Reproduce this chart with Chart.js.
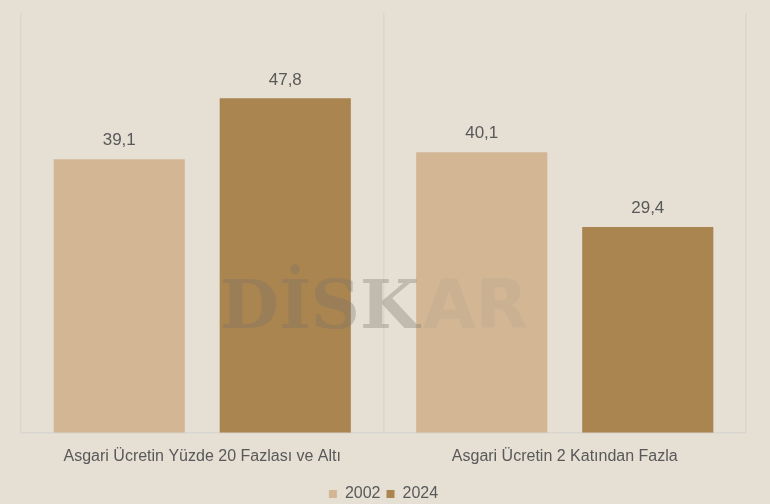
<!DOCTYPE html>
<html>
<head>
<meta charset="utf-8">
<script src="https://cdn.jsdelivr.net/npm/chart.js@4"></script>
<style>
  html, body { margin: 0; padding: 0; background: #e5dfd4; }
  #wrap { width: 770px; height: 504px; position: relative; }
</style>
</head>
<body>
<div id="wrap"><canvas id="chart"></canvas></div>
<script>
// Asgari ücret dilimleri — 2002 vs 2024
const categories = ['Asgari Ücretin Yüzde 20 Fazlası ve Altı', 'Asgari Ücretin 2 Katından Fazla'];
const years = ['2002', '2024'];
const values2002 = [39.1, 40.1];
const values2024 = [47.8, 29.4];

const TEXT = '#595959';
const FONT = "'Liberation Sans', Arial, sans-serif";

// watermark on top of the bars, semi transparent
const watermark = {
  id: 'watermark',
  afterDatasetsDraw(chart) {
    const { ctx } = chart;
    ctx.save();
    ctx.font = "bold 68px 'DejaVu Serif', serif";
    ctx.textBaseline = 'middle';
    ctx.textAlign = 'left';
    const y = 310;
    let x = 220;
    ctx.fillStyle = 'rgba(120,115,105,0.34)';
    ctx.fillText('DİSK', x, y);
    x += ctx.measureText('DİSK').width + 4;
    ctx.font = "bold 68px 'DejaVu Sans', sans-serif";
    ctx.fillStyle = 'rgba(150,140,125,0.14)';
    ctx.fillText('AR', x, y);
    ctx.restore();
  }
};

const valueLabels = {
  id: 'valueLabels',
  afterDatasetsDraw(chart) {
    const { ctx } = chart;
    ctx.save();
    ctx.font = '17px ' + FONT;
    ctx.fillStyle = TEXT;
    ctx.textAlign = 'center';
    ctx.textBaseline = 'bottom';
    chart.data.datasets.forEach((ds, i) => {
      chart.getDatasetMeta(i).data.forEach((bar, j) => {
        const txt = ds.data[j].toFixed(1).replace('.', ',');
        ctx.fillText(txt, bar.x, bar.y - 10);
      });
    });
    ctx.restore();
  }
};

new Chart(document.getElementById('chart'), {
  type: 'bar',
  data: {
    labels: categories,
    datasets: [
      { label: years[0], data: values2002, backgroundColor: '#d3b795' },
      { label: years[1], data: values2024, backgroundColor: '#aa8550' },
    ],
  },
  options: {
    responsive: true,
    maintainAspectRatio: false,
    animation: false,
    categoryPercentage: 0.916,
    barPercentage: 0.79,
    layout: { padding: { left: 21, right: 24, top: 13, bottom: -8 } },
    plugins: {
      legend: {
        position: 'bottom',
        labels: {
          color: TEXT,
          font: { size: 16, family: FONT },
          boxWidth: 8,
          boxHeight: 8,
          padding: 6,
        },
      },
      tooltip: { enabled: false },
    },
    scales: {
      x: {
        grid: { color: '#d9d6cf', drawTicks: false, lineWidth: 1.5 },
        border: { color: '#d9d6cf', width: 1.5 },
        ticks: { color: TEXT, font: { size: 16, family: FONT }, padding: 14 },
      },
      y: {
        display: false,
        min: 0,
        max: 60,
      },
    },
  },
  plugins: [valueLabels, watermark],
});
</script>
</body>
</html>
